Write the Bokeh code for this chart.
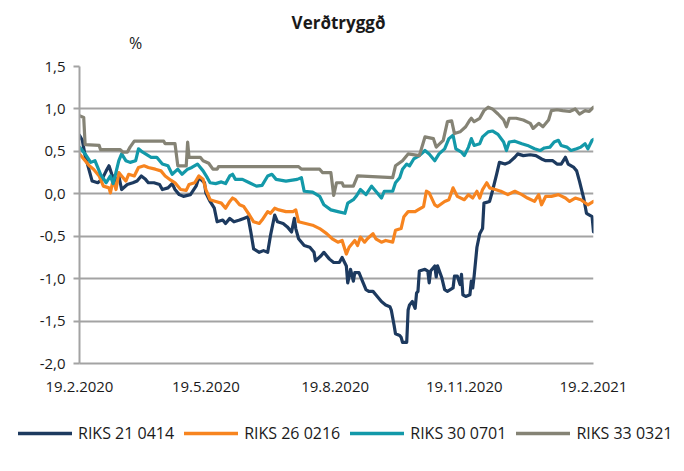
from datetime import datetime, timedelta
from bokeh.plotting import figure
from bokeh.layouts import column, row
from bokeh.models import (Range1d, FixedTicker, CustomJSTickFormatter, Legend, LegendItem, Label)
from bokeh.embed import file_html
from bokeh.resources import INLINE

TITLE = "Verðtryggð"
Y_UNIT = "%"
START = datetime(2020, 2, 19)
END = datetime(2021, 2, 19)
x_tick_dates = [datetime(2020, 2, 19), datetime(2020, 5, 19), datetime(2020, 8, 19),
                datetime(2020, 11, 19), datetime(2021, 2, 19)]
x_tick_labels = ["19.2.2020", "19.5.2020", "19.8.2020", "19.11.2020", "19.2.2021"]
y_ticks = [-2.0, -1.5, -1.0, -0.5, 0.0, 0.5, 1.0, 1.5]

series_names = ["RIKS 21 0414", "RIKS 26 0216", "RIKS 30 0701", "RIKS 33 0321"]
series_colors = ["#1d3a5f", "#f7841f", "#1399a9", "#858375"]

# days after 19.2.2020 and yield (%)
riks21_day = [0, 2, 4, 7, 9, 13, 16, 19, 21, 23, 26, 28, 30, 34, 38, 41, 44, 47, 49, 53, 57, 59, 63, 66, 68, 71, 74, 79, 83, 85, 89, 90, 93, 96, 98, 102, 104, 107, 110, 114, 117, 120, 122, 124, 128, 131, 134, 136, 139, 141, 145, 148, 151, 153, 154, 156, 160, 164, 167, 168, 172, 174, 178, 181, 185, 187, 190, 191, 193, 195, 196, 199, 202, 204, 206, 209, 211, 215, 218, 221, 222, 224, 225, 228, 229, 230, 233, 234, 235, 237, 239, 240, 241, 242, 246, 248, 249, 250, 253, 254, 255, 258, 260, 262, 266, 267, 269, 271, 272, 273, 275, 278, 279, 280, 281, 283, 285, 287, 288, 292, 294, 297, 299, 303, 306, 310, 312, 316, 321, 325, 329, 332, 337, 340, 343, 346, 348, 352, 354, 356, 359, 361, 365, 366]
riks21_val = [0.69, 0.63, 0.45, 0.27, 0.15, 0.13, 0.17, 0.27, 0.33, 0.23, 0.15, 0.21, 0.05, 0.11, 0.13, 0.15, 0.21, 0.17, 0.13, 0.13, 0.11, 0.05, 0.07, 0.12, 0.05, -0.01, -0.03, -0.01, 0.09, 0.19, 0.13, 0.01, -0.09, -0.17, -0.33, -0.31, -0.35, -0.29, -0.33, -0.31, -0.29, -0.27, -0.45, -0.65, -0.69, -0.67, -0.69, -0.49, -0.25, -0.33, -0.35, -0.39, -0.45, -0.29, -0.41, -0.53, -0.61, -0.63, -0.69, -0.79, -0.73, -0.69, -0.77, -0.81, -0.81, -0.75, -0.85, -1.05, -0.89, -1.03, -0.93, -0.93, -1.05, -1.13, -1.15, -1.15, -1.19, -1.27, -1.31, -1.33, -1.37, -1.55, -1.65, -1.67, -1.69, -1.75, -1.75, -1.37, -1.31, -1.27, -1.35, -1.17, -1.15, -0.91, -0.89, -0.91, -1.05, -0.91, -0.85, -0.98, -0.85, -0.99, -1.13, -1.15, -1.11, -0.97, -0.97, -1.07, -0.95, -1.19, -1.21, -1.19, -1.03, -1.11, -0.97, -0.63, -0.47, -0.41, -0.11, -0.09, 0.03, 0.23, 0.37, 0.35, 0.37, 0.43, 0.47, 0.45, 0.46, 0.45, 0.41, 0.39, 0.39, 0.35, 0.35, 0.43, 0.35, 0.31, 0.27, 0.15, -0.05, -0.23, -0.27, -0.45]

riks26_day = [0, 3, 7, 10, 14, 17, 21, 22, 24, 26, 28, 30, 33, 35, 39, 42, 46, 49, 54, 58, 61, 65, 68, 72, 76, 78, 82, 85, 88, 90, 93, 97, 101, 104, 107, 109, 111, 114, 117, 121, 124, 128, 130, 134, 136, 139, 142, 147, 152, 154, 156, 161, 166, 171, 176, 180, 184, 187, 190, 192, 196, 198, 200, 203, 205, 209, 211, 215, 218, 223, 225, 229, 231, 234, 239, 241, 245, 247, 249, 253, 255, 260, 263, 266, 269, 274, 277, 280, 283, 285, 287, 290, 292, 296, 300, 305, 310, 315, 319, 324, 327, 329, 332, 336, 341, 346, 349, 353, 357, 362, 366]
riks26_val = [0.47, 0.41, 0.33, 0.29, 0.21, 0.09, 0.07, 0.01, 0.17, 0.05, 0.25, 0.21, 0.15, 0.23, 0.21, 0.31, 0.33, 0.31, 0.29, 0.27, 0.21, 0.16, 0.13, 0.05, 0.04, 0.11, 0.13, 0.21, 0.17, 0.05, -0.07, -0.09, -0.11, -0.17, -0.09, -0.05, -0.07, -0.13, -0.15, -0.25, -0.33, -0.35, -0.31, -0.21, -0.23, -0.17, -0.19, -0.21, -0.21, -0.19, -0.33, -0.35, -0.37, -0.41, -0.47, -0.53, -0.57, -0.55, -0.71, -0.63, -0.55, -0.61, -0.51, -0.57, -0.53, -0.47, -0.53, -0.57, -0.55, -0.57, -0.43, -0.41, -0.27, -0.21, -0.21, -0.19, -0.15, 0.03, 0.01, -0.13, -0.15, -0.09, -0.07, 0.07, -0.03, -0.07, -0.01, -0.05, 0.03, -0.05, 0.05, 0.13, 0.07, 0.05, 0.03, -0.01, 0.03, -0.01, -0.05, -0.09, -0.01, -0.13, -0.03, -0.03, -0.01, -0.05, -0.09, -0.05, -0.07, -0.13, -0.09]

riks30_day = [0, 4, 8, 11, 15, 19, 22, 24, 28, 30, 33, 36, 40, 42, 45, 47, 51, 55, 59, 63, 66, 70, 73, 77, 80, 84, 88, 91, 93, 97, 101, 104, 107, 109, 111, 116, 121, 126, 130, 134, 137, 140, 147, 155, 158, 160, 166, 171, 174, 179, 184, 189, 191, 195, 197, 200, 204, 208, 211, 215, 217, 223, 225, 228, 230, 233, 235, 238, 242, 246, 249, 253, 256, 260, 263, 266, 268, 272, 274, 277, 279, 281, 285, 287, 291, 294, 298, 302, 304, 306, 310, 315, 319, 324, 328, 331, 335, 338, 341, 343, 347, 350, 354, 357, 360, 362, 365, 366]
riks30_val = [0.55, 0.47, 0.37, 0.39, 0.23, 0.13, 0.21, 0.12, 0.39, 0.47, 0.39, 0.37, 0.39, 0.53, 0.49, 0.47, 0.43, 0.43, 0.35, 0.33, 0.23, 0.29, 0.23, 0.29, 0.31, 0.35, 0.27, 0.19, 0.13, 0.12, 0.14, 0.12, 0.21, 0.23, 0.17, 0.17, 0.13, 0.09, 0.10, 0.21, 0.23, 0.17, 0.15, 0.17, 0.19, 0.03, 0.02, -0.03, -0.13, -0.19, -0.21, -0.23, -0.11, -0.07, -0.03, 0.05, -0.01, 0.09, 0.03, -0.05, 0.03, 0.03, 0.13, 0.19, 0.29, 0.35, 0.33, 0.41, 0.45, 0.51, 0.47, 0.39, 0.47, 0.53, 0.65, 0.69, 0.53, 0.49, 0.45, 0.55, 0.65, 0.57, 0.59, 0.67, 0.73, 0.74, 0.70, 0.61, 0.51, 0.61, 0.62, 0.59, 0.57, 0.53, 0.51, 0.54, 0.55, 0.61, 0.63, 0.57, 0.55, 0.51, 0.53, 0.55, 0.59, 0.53, 0.63, 0.64]

riks33_day = [0, 3, 4, 14, 15, 29, 31, 34, 36, 39, 60, 61, 68, 70, 76, 77, 78, 86, 88, 92, 95, 98, 99, 156, 158, 171, 173, 179, 181, 183, 187, 188, 195, 198, 223, 225, 230, 234, 242, 246, 252, 254, 259, 262, 265, 267, 271, 275, 278, 279, 281, 285, 288, 291, 294, 298, 302, 304, 306, 311, 316, 321, 323, 327, 330, 334, 336, 340, 344, 349, 353, 356, 360, 363, 366]
riks33_val = [0.92, 0.90, 0.58, 0.57, 0.52, 0.52, 0.49, 0.49, 0.55, 0.62, 0.62, 0.59, 0.59, 0.33, 0.33, 0.61, 0.43, 0.43, 0.39, 0.36, 0.29, 0.29, 0.32, 0.32, 0.29, 0.29, 0.25, 0.25, -0.02, 0.13, 0.13, 0.09, 0.09, 0.21, 0.19, 0.33, 0.39, 0.47, 0.45, 0.67, 0.65, 0.55, 0.63, 0.85, 0.86, 0.71, 0.73, 0.79, 0.87, 0.89, 0.85, 0.89, 0.98, 1.02, 1.00, 0.94, 0.87, 0.79, 0.89, 0.89, 0.87, 0.83, 0.77, 0.83, 0.79, 0.87, 0.98, 0.99, 0.98, 0.97, 1.00, 0.94, 0.98, 0.97, 1.02]

series_days = [riks21_day, riks26_day, riks30_day, riks33_day]
series_vals = [riks21_val, riks26_val, riks30_val, riks33_val]

FONT = "Open Sans"
TEXT_COLOR = "#1a1a1a"
GRID_COLOR = "#a3a3a3"
W = 676


def bare_figure(height, **borders):
    f = figure(width=W, height=height, output_backend="svg", toolbar_location=None,
               x_axis_location=None, y_axis_location=None, outline_line_color=None,
               x_range=Range1d(START, END), y_range=Range1d(10, 11),
               background_fill_color="white", border_fill_color="white", **borders)
    f.grid.grid_line_color = None
    return f


# ---- header (title and unit); same side borders as the chart ----
head = bare_figure(56, min_border_left=79, min_border_right=83, min_border_top=0, min_border_bottom=0)
head.add_layout(Label(x=259, y=34, x_units="screen", y_units="screen", text=TITLE,
                      text_font=FONT, text_font_style="bold", text_font_size="17px",
                      text_color=TEXT_COLOR, text_align="center", text_baseline="middle"))
head.add_layout(Label(x=56, y=14, x_units="screen", y_units="screen", text=Y_UNIT,
                      text_font=FONT, text_font_size="16px",
                      text_color=TEXT_COLOR, text_align="center", text_baseline="middle"))

# ---- main chart ----
p = figure(frame_width=514, frame_height=297, x_axis_type="datetime",
           x_range=Range1d(START, END), y_range=Range1d(-2.0, 1.5),
           output_backend="svg", toolbar_location=None,
           min_border_left=79, min_border_right=83, min_border_top=10, min_border_bottom=45,
           outline_line_color=None, background_fill_color="white", border_fill_color="white")

series_x = []
for color, days, vals in zip(series_colors, series_days, series_vals):
    xs = [START + timedelta(days=d) for d in days]
    series_x.append(xs)
    p.line(xs, vals, line_color=color, line_width=3.2, line_join="round", line_cap="round")

tick_ms = [(d - datetime(1970, 1, 1)).total_seconds() * 1000 for d in x_tick_dates]
p.xaxis.ticker = FixedTicker(ticks=tick_ms)
p.xaxis.major_label_overrides = {t: lab for t, lab in zip(tick_ms, x_tick_labels)}
p.xaxis.axis_line_color = GRID_COLOR
p.xaxis.axis_line_width = 2
p.xaxis.major_tick_line_color = None
p.xaxis.minor_tick_line_color = None
p.xaxis.major_label_standoff = 12
p.xaxis.major_label_text_font = FONT
p.xaxis.major_label_text_font_size = "15px"
p.xaxis.major_label_text_color = TEXT_COLOR

p.yaxis.ticker = FixedTicker(ticks=y_ticks)
p.yaxis.formatter = CustomJSTickFormatter(code="return tick.toFixed(1).replace('.', ',');")
p.yaxis.axis_line_color = GRID_COLOR
p.yaxis.axis_line_width = 2
p.yaxis.major_tick_line_color = GRID_COLOR
p.yaxis.major_tick_line_width = 2
p.yaxis.major_tick_out = 6
p.yaxis.major_tick_in = 0
p.yaxis.minor_tick_line_color = None
p.yaxis.major_label_standoff = 8
p.yaxis.major_label_text_font = FONT
p.yaxis.major_label_text_font_size = "15px"
p.yaxis.major_label_text_color = TEXT_COLOR

p.xgrid.grid_line_color = None
p.ygrid.grid_line_color = GRID_COLOR
p.ygrid.grid_line_width = 2

# ---- legend strip (legend proxies use the series data, outside this strip's y range) ----
foot = bare_figure(55, min_border=0)
items = []
for name, color, xs, vals in zip(series_names, series_colors, series_x, series_vals):
    r = foot.line(xs, vals, line_color=color, line_width=3.5, line_cap="round")
    items.append(LegendItem(label=name, renderers=[r]))
legend = Legend(items=items, orientation="horizontal", location=(18, 19),
                padding=0, margin=0, spacing=10, label_standoff=6,
                glyph_width=54, glyph_height=18,
                border_line_color=None, background_fill_alpha=0,
                label_text_font=FONT, label_text_font_size="16px",
                label_text_color=TEXT_COLOR)
foot.add_layout(legend, "center")

layout = column(head, p, row(foot), spacing=0)
open("out.html", "w").write(file_html(layout, INLINE))
